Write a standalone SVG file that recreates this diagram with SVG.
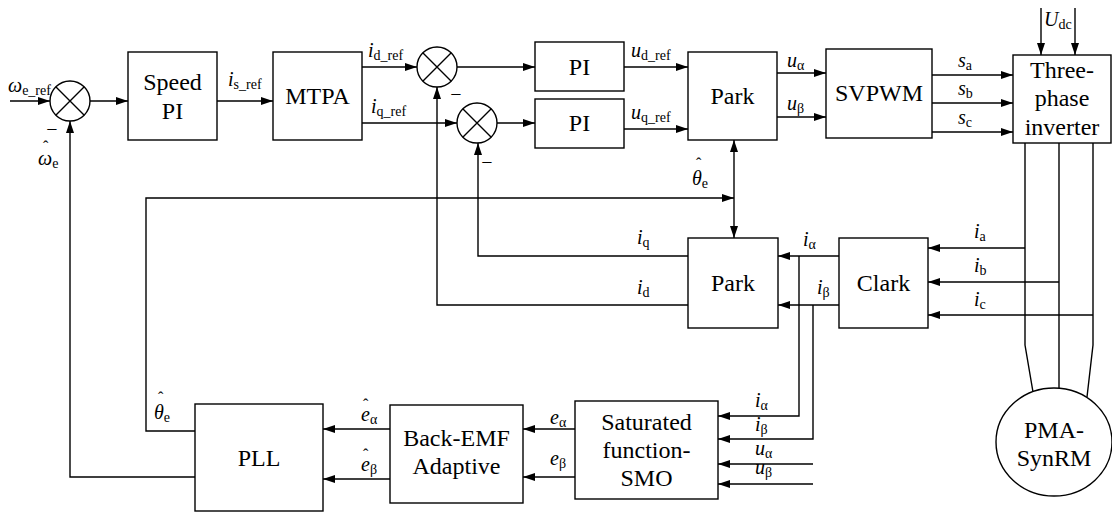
<svg xmlns="http://www.w3.org/2000/svg" width="1112" height="513" viewBox="0 0 1112 513" font-family="Liberation Serif">
<style>
.bx{fill:#fff;stroke:#000;stroke-width:1.4}
.ln{fill:none;stroke:#000;stroke-width:1.4}
.ar{marker-end:url(#ah)}
.nodeTxt{font-family:'Liberation Serif',serif;font-size:30px;text-anchor:middle;fill:#000}
.lblTxt{font-family:'Liberation Serif',serif;font-size:40px;font-style:italic;fill:#000}
.subTxt{font-family:'Liberation Serif',serif;font-size:28px;font-style:normal}
.minTxt{font-family:'Liberation Serif',serif;font-size:40px;text-anchor:middle;fill:#000}
.hatTxt{font-family:'Liberation Serif',serif;font-size:32px;font-style:normal;fill:#000}
</style>
<defs>
<marker id="ah" viewBox="0 0 12 8" refX="12" refY="4" markerWidth="12" markerHeight="8" orient="auto-start-reverse" markerUnits="userSpaceOnUse"><path d="M0,0 L12,4 L0,8 z" fill="#000"/></marker>
</defs>
<rect width="1112" height="513" fill="#fff"/>
<g id="connectors">
<path class="ln ar" d="M10,101 H50"/>
<path class="ln ar" d="M90,101 H128"/>
<path class="ln ar" d="M217,101 H273"/>
<path class="ln ar" d="M362,67 H417"/>
<path class="ln ar" d="M362,123 H457"/>
<path class="ln ar" d="M457,67 H535"/>
<path class="ln ar" d="M497,123 H535"/>
<path class="ln ar" d="M624,67 H688"/>
<path class="ln ar" d="M624,129 H688"/>
<path class="ln ar" d="M777,73 H826"/>
<path class="ln ar" d="M777,117 H826"/>
<path class="ln ar" d="M932,75 H1013"/>
<path class="ln ar" d="M932,103 H1013"/>
<path class="ln ar" d="M932,132 H1013"/>
<path class="ln ar" d="M1041,8 V55"/>
<path class="ln ar" d="M1075,8 V55"/>
<path class="ln" d="M1025,143 V345 L1033,392"/>
<path class="ln" d="M1059,143 V389"/>
<path class="ln" d="M1093,143 V345 L1087,397"/>
<path class="ln ar" d="M1025,248 H928"/>
<path class="ln ar" d="M1059,282 H928"/>
<path class="ln ar" d="M1093,315 H928"/>
<path class="ln ar" d="M839,256 H778"/>
<path class="ln ar" d="M839,305 H778"/>
<path class="ln ar" d="M799,256 V416 H718"/>
<path class="ln ar" d="M813,305 V439 H718"/>
<path class="ln ar" d="M813,464 H718"/>
<path class="ln ar" d="M813,484 H718"/>
<path class="ln ar" d="M575,429 H523"/>
<path class="ln ar" d="M575,477 H523"/>
<path class="ln ar" d="M390,429 H323"/>
<path class="ln ar" d="M390,479 H323"/>
<path class="ln ar" d="M195,431 H146 V198 H734"/>
<path class="ln ar" d="M195,477 H70 V121"/>
<path class="ln ar" d="M734,140 V238" style="marker-start:url(#ah)"/>
<path class="ln ar" d="M688,256 H478 V143"/>
<path class="ln ar" d="M688,305 H437 V87"/>
</g>
<g id="sum1"><circle class="bx" cx="70" cy="101" r="20"/><path class="ln" d="M56,87 L84,115 M84,87 L56,115"/></g>
<g id="sum2"><circle class="bx" cx="437" cy="67" r="20"/><path class="ln" d="M423,53 L451,81 M451,53 L423,81"/></g>
<g id="sum3"><circle class="bx" cx="477" cy="123" r="20"/><path class="ln" d="M463,109 L491,137 M491,109 L463,137"/></g>
<g id="speedpi"><rect class="bx" x="128" y="52" width="89" height="88"/><text class="nodeTxt" transform="translate(172.5,90) scale(0.8)">Speed</text><text class="nodeTxt" transform="translate(172.5,119) scale(0.8)">PI</text></g>
<g id="mtpa"><rect class="bx" x="273" y="52" width="89" height="88"/><text class="nodeTxt" transform="translate(317.5,104) scale(0.8)">MTPA</text></g>
<g id="pi1"><rect class="bx" x="535" y="42" width="89" height="49"/><text class="nodeTxt" transform="translate(579.5,75) scale(0.8)">PI</text></g>
<g id="pi2"><rect class="bx" x="535" y="99" width="89" height="49"/><text class="nodeTxt" transform="translate(579.5,131) scale(0.8)">PI</text></g>
<g id="park1"><rect class="bx" x="688" y="52" width="89" height="88"/><text class="nodeTxt" transform="translate(732.5,104) scale(0.8)">Park</text></g>
<g id="svpwm"><rect class="bx" x="826" y="49" width="106" height="89"/><text class="nodeTxt" transform="translate(879,101) scale(0.8)">SVPWM</text></g>
<g id="inverter"><rect class="bx" x="1013" y="55" width="98" height="88"/><text class="nodeTxt" transform="translate(1062,78) scale(0.8)">Three-</text><text class="nodeTxt" transform="translate(1062,106) scale(0.8)">phase</text><text class="nodeTxt" transform="translate(1062,135) scale(0.8)">inverter</text></g>
<g id="park2"><rect class="bx" x="688" y="238" width="90" height="90"/><text class="nodeTxt" transform="translate(733,291) scale(0.8)">Park</text></g>
<g id="clark"><rect class="bx" x="839" y="238" width="89" height="90"/><text class="nodeTxt" transform="translate(883.5,291) scale(0.8)">Clark</text></g>
<g id="pll"><rect class="bx" x="195" y="404" width="128" height="107"/><text class="nodeTxt" transform="translate(259,466) scale(0.8)">PLL</text></g>
<g id="backemf"><rect class="bx" x="390" y="405" width="133" height="98"/><text class="nodeTxt" transform="translate(456.5,446) scale(0.8)">Back-EMF</text><text class="nodeTxt" transform="translate(456.5,474) scale(0.8)">Adaptive</text></g>
<g id="smo"><rect class="bx" x="575" y="401" width="143" height="98"/><text class="nodeTxt" transform="translate(646.5,430) scale(0.8)">Saturated</text><text class="nodeTxt" transform="translate(646.5,458) scale(0.8)">function-</text><text class="nodeTxt" transform="translate(646.5,486) scale(0.8)">SMO</text></g>
<g id="motor"><ellipse class="bx" cx="1054" cy="442" rx="58" ry="54"/><text class="nodeTxt" transform="translate(1054,438) scale(0.8)">PMA-</text><text class="nodeTxt" transform="translate(1054,466) scale(0.8)">SynRM</text></g>
<g id="labels">
<text class="lblTxt" transform="translate(8,92) scale(0.5)">ω<tspan class="subTxt" dy="6">e_ref</tspan></text>
<text class="minTxt" transform="translate(52,136) scale(0.5)">−</text>
<text class="minTxt" transform="translate(456,101) scale(0.5)">−</text>
<text class="minTxt" transform="translate(487,169) scale(0.5)">−</text>
<text class="lblTxt" transform="translate(38,165) scale(0.5)">ω<tspan class="subTxt" dy="6">e</tspan></text>
<text class="hatTxt" transform="translate(43,152) scale(0.5)">ˆ</text>
<text class="lblTxt" transform="translate(228,86) scale(0.5)">i<tspan class="subTxt" dy="6">s_ref</tspan></text>
<text class="lblTxt" transform="translate(368,57) scale(0.5)">i<tspan class="subTxt" dy="6">d_ref</tspan></text>
<text class="lblTxt" transform="translate(371,113) scale(0.5)">i<tspan class="subTxt" dy="6">q_ref</tspan></text>
<text class="lblTxt" transform="translate(631,57) scale(0.5)">u<tspan class="subTxt" dy="6">d_ref</tspan></text>
<text class="lblTxt" transform="translate(631,119) scale(0.5)">u<tspan class="subTxt" dy="6">q_ref</tspan></text>
<text class="lblTxt" transform="translate(787,67) scale(0.5)">u<tspan class="subTxt" dy="6">α</tspan></text>
<text class="lblTxt" transform="translate(787,110) scale(0.5)">u<tspan class="subTxt" dy="6">β</tspan></text>
<text class="lblTxt" transform="translate(958,67) scale(0.5)">s<tspan class="subTxt" dy="6">a</tspan></text>
<text class="lblTxt" transform="translate(958,95) scale(0.5)">s<tspan class="subTxt" dy="6">b</tspan></text>
<text class="lblTxt" transform="translate(958,124) scale(0.5)">s<tspan class="subTxt" dy="6">c</tspan></text>
<text class="lblTxt" transform="translate(1044,26) scale(0.5)">U<tspan class="subTxt" dy="6">dc</tspan></text>
<text class="lblTxt" transform="translate(692,185) scale(0.5)">θ<tspan class="subTxt" dy="6">e</tspan></text>
<text class="hatTxt" transform="translate(696,169) scale(0.5)">ˆ</text>
<text class="lblTxt" transform="translate(637,244) scale(0.5)">i<tspan class="subTxt" dy="6">q</tspan></text>
<text class="lblTxt" transform="translate(637,294) scale(0.5)">i<tspan class="subTxt" dy="6">d</tspan></text>
<text class="lblTxt" transform="translate(803,246) scale(0.5)">i<tspan class="subTxt" dy="6">α</tspan></text>
<text class="lblTxt" transform="translate(817,294) scale(0.5)">i<tspan class="subTxt" dy="6">β</tspan></text>
<text class="lblTxt" transform="translate(974,238) scale(0.5)">i<tspan class="subTxt" dy="6">a</tspan></text>
<text class="lblTxt" transform="translate(974,272) scale(0.5)">i<tspan class="subTxt" dy="6">b</tspan></text>
<text class="lblTxt" transform="translate(974,306) scale(0.5)">i<tspan class="subTxt" dy="6">c</tspan></text>
<text class="lblTxt" transform="translate(755,407) scale(0.5)">i<tspan class="subTxt" dy="6">α</tspan></text>
<text class="lblTxt" transform="translate(755,431) scale(0.5)">i<tspan class="subTxt" dy="6">β</tspan></text>
<text class="lblTxt" transform="translate(755,455) scale(0.5)">u<tspan class="subTxt" dy="6">α</tspan></text>
<text class="lblTxt" transform="translate(755,474) scale(0.5)">u<tspan class="subTxt" dy="6">β</tspan></text>
<text class="lblTxt" transform="translate(550,424) scale(0.5)">e<tspan class="subTxt" dy="6">α</tspan></text>
<text class="lblTxt" transform="translate(550,465) scale(0.5)">e<tspan class="subTxt" dy="6">β</tspan></text>
<text class="lblTxt" transform="translate(361,421) scale(0.5)">e<tspan class="subTxt" dy="6">α</tspan></text>
<text class="hatTxt" transform="translate(363,410) scale(0.5)">ˆ</text>
<text class="lblTxt" transform="translate(361,471) scale(0.5)">e<tspan class="subTxt" dy="6">β</tspan></text>
<text class="hatTxt" transform="translate(363,460) scale(0.5)">ˆ</text>
<text class="lblTxt" transform="translate(154,419) scale(0.5)">θ<tspan class="subTxt" dy="6">e</tspan></text>
<text class="hatTxt" transform="translate(158,403) scale(0.5)">ˆ</text>
</g>
</svg>
